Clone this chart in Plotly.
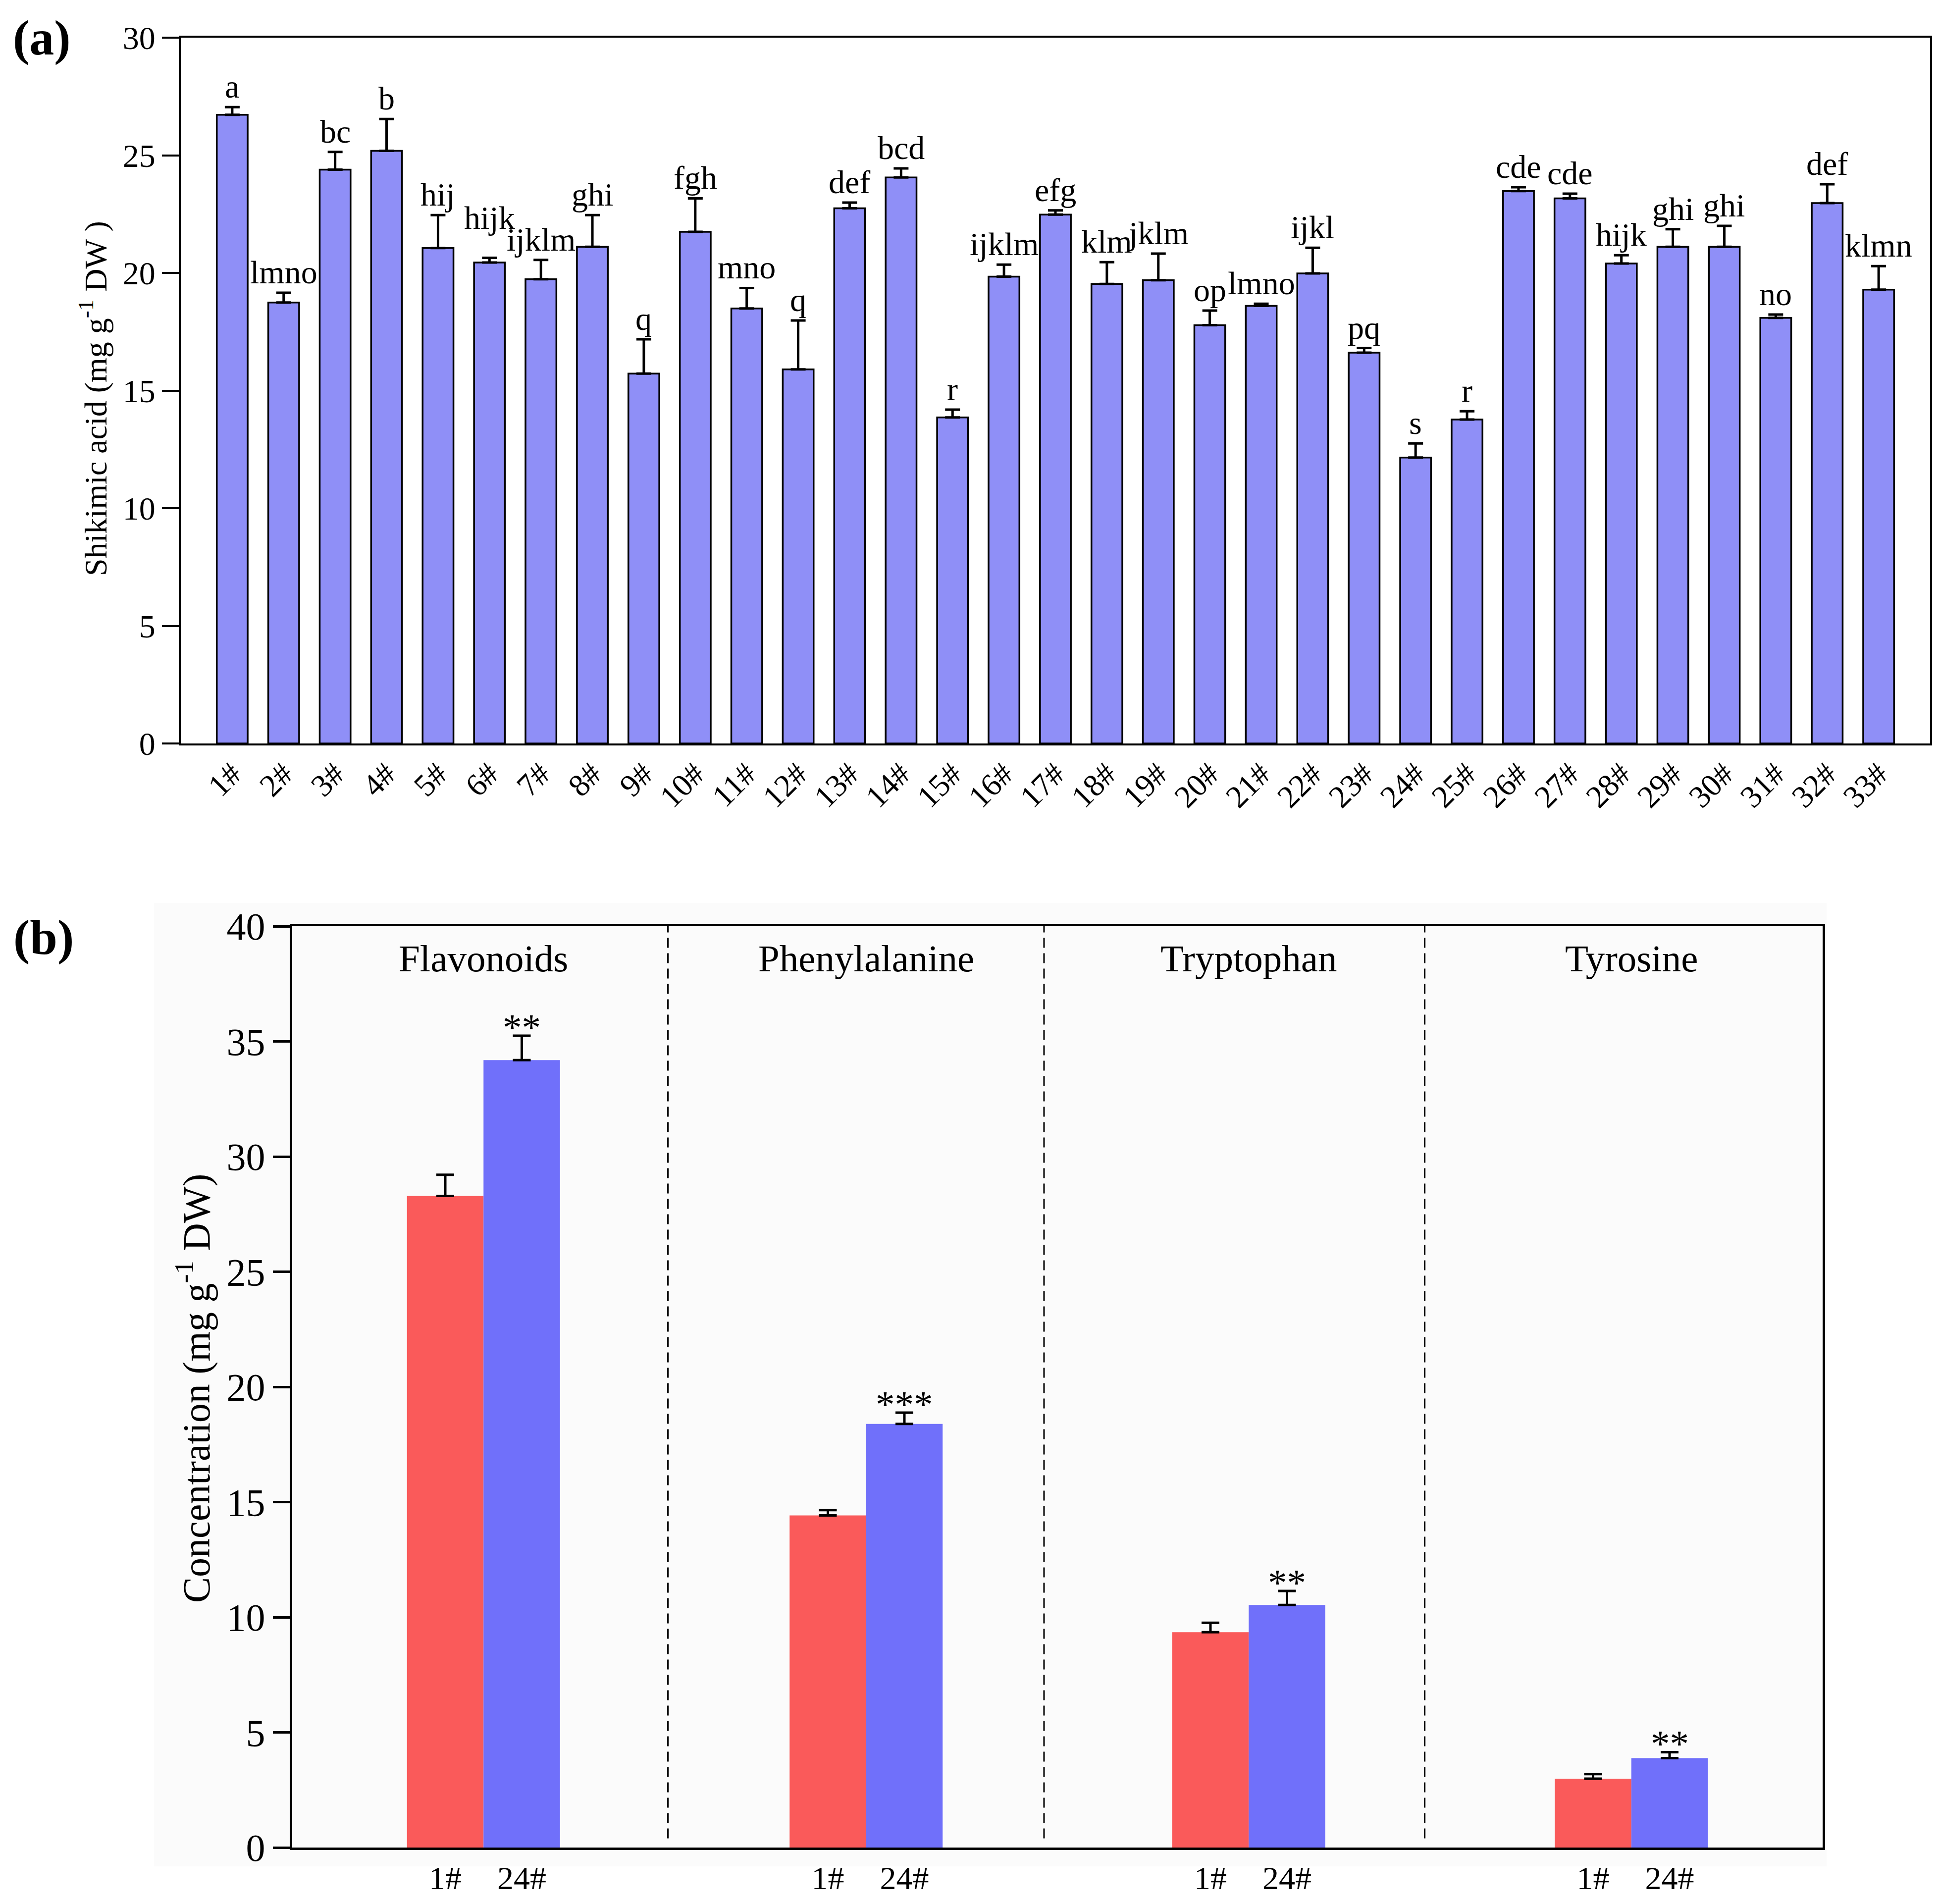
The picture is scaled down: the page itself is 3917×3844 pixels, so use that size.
import plotly.graph_objects as go

# panel (a): shikimic acid in 33 lines
lines = ["1#", "2#", "3#", "4#", "5#", "6#", "7#", "8#", "9#", "10#", "11#",
         "12#", "13#", "14#", "15#", "16#", "17#", "18#", "19#", "20#", "21#",
         "22#", "23#", "24#", "25#", "26#", "27#", "28#", "29#", "30#", "31#",
         "32#", "33#"]
shikimic = [26.72, 18.74, 24.39, 25.19, 21.06, 20.44, 19.73, 21.11, 15.72, 21.75, 18.49,
            15.90, 22.75, 24.06, 13.86, 19.84, 22.48, 19.53, 19.69, 17.78, 18.60,
            19.98, 16.61, 12.15, 13.77, 23.48, 23.17, 20.40, 21.11, 21.11, 18.09,
            22.97, 19.29]
shikimic_err = [0.33, 0.42, 0.75, 1.35, 1.40, 0.20, 0.82, 1.35, 1.46, 1.42, 0.87,
                2.08, 0.24, 0.38, 0.33, 0.51, 0.18, 0.93, 1.13, 0.62, 0.09,
                1.09, 0.20, 0.60, 0.35, 0.16, 0.20, 0.35, 0.75, 0.89, 0.14,
                0.80, 1.00]
letters = ["a", "lmno", "bc", "b", "hij", "hijk", "ijklm", "ghi", "q", "fgh", "mno",
           "q", "def", "bcd", "r", "ijklm", "efg", "klm", "jklm", "op", "lmno",
           "ijkl", "pq", "s", "r", "cde", "cde", "hijk", "ghi", "ghi", "no",
           "def", "klmn"]

# panel (b): 1# vs 24#
compounds = ["Flavonoids", "Phenylalanine", "Tryptophan", "Tyrosine"]
conc_1 = [28.29, 14.42, 9.35, 2.99]
err_1 = [0.92, 0.23, 0.41, 0.20]
conc_24 = [34.19, 18.39, 10.53, 3.88]
err_24 = [1.06, 0.49, 0.61, 0.26]
stars = ["**", "***", "**", "**"]

FONT = "Liberation Serif"
W, H = 3917, 3844

# letters that were hand-lifted in the original to avoid touching neighbours
label_lift = {"6#": 40}

fig = go.Figure()

fig.add_trace(go.Bar(
    x=lines, y=shikimic, width=0.6,
    marker=dict(color="#8f8ff7", line=dict(color="black", width=3.5)),
    error_y=dict(type="data", array=shikimic_err, arrayminus=[0] * len(lines),
                 symmetric=False, color="black", thickness=5, width=15),
    xaxis="x", yaxis="y", showlegend=False))

pos = [i + 0.5 for i in range(len(compounds))]
fig.add_trace(go.Bar(
    x=pos, y=conc_1, offset=-0.2, width=0.2,
    marker=dict(color="#fa5a5a", line=dict(width=0)),
    error_y=dict(type="data", array=err_1, arrayminus=[0] * 4, symmetric=False,
                 color="black", thickness=5, width=18),
    xaxis="x2", yaxis="y2", showlegend=False))
fig.add_trace(go.Bar(
    x=pos, y=conc_24, offset=0, width=0.2,
    marker=dict(color="#7070fa", line=dict(width=0)),
    error_y=dict(type="data", array=err_24, arrayminus=[0] * 4, symmetric=False,
                 color="black", thickness=5, width=18),
    xaxis="x2", yaxis="y2", showlegend=False))

ann = []
for lab, v, e, l in zip(lines, shikimic, shikimic_err, letters):
    ann.append(dict(x=lab, y=v + e, xref="x", yref="y", text=l, showarrow=False,
                    yanchor="bottom", yshift=3 + label_lift.get(lab, 0),
                    font=dict(family=FONT, size=66, color="black")))

for p, v, e, s in zip(pos, conc_24, err_24, stars):
    ann.append(dict(x=p + 0.1, y=v + e, xref="x2", yref="y2", text=s, showarrow=False,
                    yanchor="bottom", yshift=-28, font=dict(family=FONT, size=77, color="black")))

for p, c in zip(pos, compounds):
    ann.append(dict(x=p, y=0.965, xref="x2", yref="y2 domain", text=c, showarrow=False,
                    yanchor="middle", font=dict(family=FONT, size=77, color="black")))

ann += [
    dict(x=180 / W, y=1 - 797 / H, xref="paper", yref="paper", textangle=-90, showarrow=False,
         xanchor="center", yanchor="middle",
         text="Shikimic acid (mg g<sup>-1</sup> DW )", font=dict(family=FONT, size=64, color="black")),
    dict(x=382 / W, y=1 - 2795 / H, xref="paper", yref="paper", textangle=-90, showarrow=False,
         xanchor="center", yanchor="middle",
         text="Concentration (mg g<sup>-1</sup> DW)", font=dict(family=FONT, size=78, color="black")),
    dict(x=76 / W, y=1 - 68 / H, xref="paper", yref="paper", showarrow=False,
         xanchor="center", yanchor="middle",
         text="<b>(a)</b>", font=dict(family=FONT, size=100, color="black")),
    dict(x=80 / W, y=1 - 1884 / H, xref="paper", yref="paper", showarrow=False,
         xanchor="center", yanchor="middle",
         text="<b>(b)</b>", font=dict(family=FONT, size=100, color="black")),
]

shapes = [dict(type="rect", xref="paper", yref="paper", x0=303 / W, x1=3680 / W,
               y0=1 - 3760 / H, y1=1 - 1815 / H, fillcolor="#fbfbfb",
               line=dict(width=0), layer="below")]
for d in [0.982, 1.965, 2.96]:
    shapes.append(dict(type="line", xref="x2", yref="y2 domain", x0=d, x1=d, y0=0.01, y1=1,
                       line=dict(color="black", width=3, dash="20px,11px")))

tick_pos = []
tick_txt = []
for p in pos:
    tick_pos += [p - 0.1, p + 0.1]
    tick_txt += ["1#", "24#"]

fig.update_layout(
    template="none",
    width=W, height=H,
    margin=dict(l=0, r=0, t=0, b=0, pad=0),
    paper_bgcolor="white", plot_bgcolor="rgba(0,0,0,0)",
    font=dict(family=FONT, color="black"),
    annotations=ann, shapes=shapes,
    xaxis=dict(domain=[357 / W, 3889 / W], anchor="y", type="category", range=[-1, 33],
               showline=True, linecolor="black", linewidth=4, mirror=True,
               ticks="", tickangle=-45, tickfont=dict(family=FONT, size=64),
               ticklabelstandoff=-6,
               showgrid=False, zeroline=False, automargin=False),
    yaxis=dict(domain=[1 - 1493 / H, 1 - 68 / H], anchor="x", range=[0, 30], dtick=5,
               showline=True, linecolor="black", linewidth=4, mirror=True,
               ticks="outside", ticklen=34, tickwidth=4, tickcolor="black",
               tickfont=dict(family=FONT, size=66), showgrid=False, zeroline=False,
               automargin=False),
    xaxis2=dict(domain=[582 / W, 3672 / W], anchor="y2", range=[0, 4],
                showline=True, linecolor="black", linewidth=5, mirror=True,
                tickvals=tick_pos, ticktext=tick_txt, ticks="", 
                tickfont=dict(family=FONT, size=66),
                showgrid=False, zeroline=False, automargin=False),
    yaxis2=dict(domain=[1 - 3722 / H, 1 - 1862 / H], anchor="x2", range=[0, 40], dtick=5,
                showline=True, linecolor="black", linewidth=5, mirror=True,
                ticks="outside", ticklen=34, tickwidth=5, tickcolor="black",
                tickfont=dict(family=FONT, size=78), showgrid=False, zeroline=False,
                automargin=False),
    barmode="overlay",
)

fig.write_html("out.html")
